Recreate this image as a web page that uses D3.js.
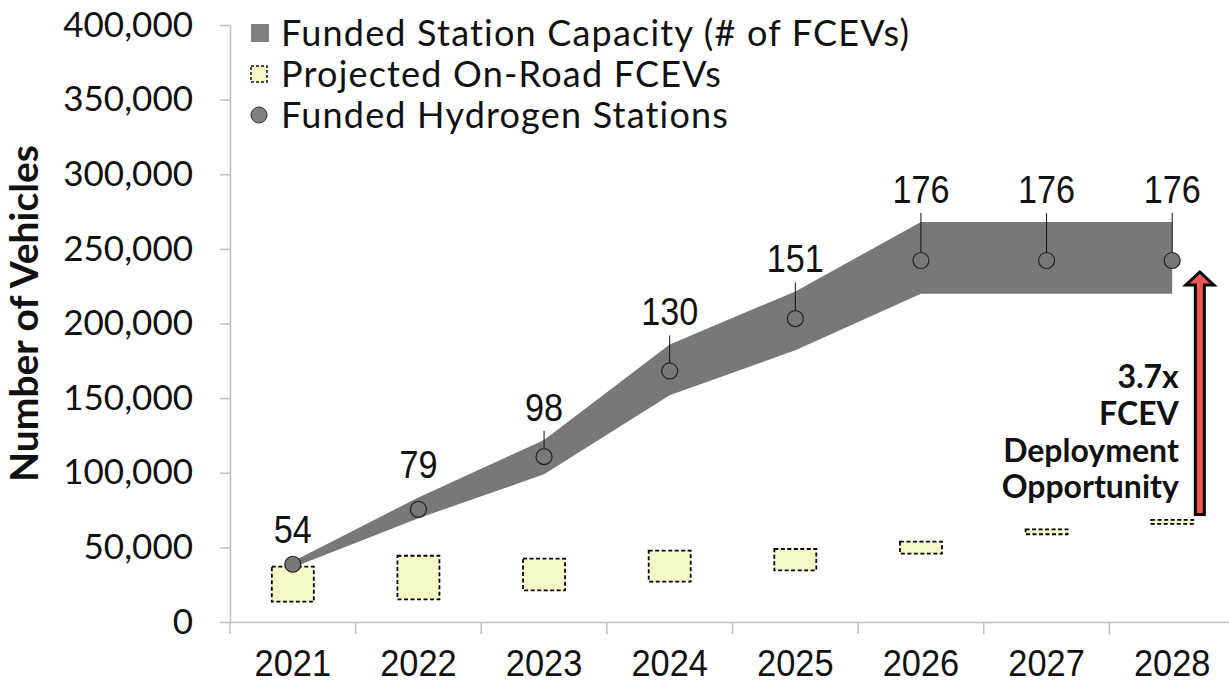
<!DOCTYPE html>
<html>
<head>
<meta charset="utf-8">
<script src="https://cdn.jsdelivr.net/npm/d3@7"></script>
<style>
    body { margin: 0; background: #fff; }
    svg { display: block; }
</style>
</head>
<body>
<script>
'use strict'

const years = ['2021', '2022', '2023', '2024', '2025', '2026', '2027', '2028']
const capacityHigh = [40500, 83500, 122000, 186000, 221500, 268000, 268000, 268000]
const capacityLow = [36500, 69500, 99000, 152000, 182000, 220000, 220000, 220000]
const stationY = [38700, 75500, 110800, 168200, 203300, 242200, 242200, 242200]
const stationCounts = [54, 79, 98, 130, 151, 176, 176, 176]
const fcevHigh = [37100, 44400, 42400, 47800, 48900, 53800, 62100, 68400]
const fcevLow = [13600, 15200, 21200, 27000, 34600, 45800, 58800, 65700]
const yTicks = [0, 50000, 100000, 150000, 200000, 250000, 300000, 350000, 400000]
const legendLabels = ['Funded Station Capacity (# of FCEVs)', 'Projected On-Road FCEVs', 'Funded Hydrogen Stations']
const arrowRange = [72000, 234500]
const arrowLines = ['3.7x', 'FCEV', 'Deployment', 'Opportunity']

const width = 1229
const height = 684
const geo = 'Lato, "Open Sans", sans-serif'
const arial = '"Liberation Sans", Arial, sans-serif'
const bandGray = '#787878'
const axisGray = '#bfbfbf'

const svg = d3.select('body').append('svg').attr('width', width).attr('height', height)

const x = d3.scaleBand().domain(years).range([230, 1235])
const y = d3.scaleLinear().domain([0, 400000]).range([622, 25])
const cx = d => x(d) + x.bandwidth() / 2

// y axis
const yAxis = svg.append('g')
    .attr('transform', 'translate(230,0)')
    .call(d3.axisLeft(y).tickValues(yTicks).tickSize(10).tickSizeOuter(0).tickPadding(27).tickFormat(d3.format(',')))
yAxis.selectAll('text').style('font-family', geo).style('font-size', '35px').attr('fill', '#111')
yAxis.selectAll('line, path').attr('stroke', axisGray).attr('stroke-width', 1.5)

// x axis, labels squeezed a little like a narrow face
const xAxis = svg.append('g')
    .attr('transform', 'translate(0,622)')
    .call(d3.axisBottom(x).tickSize(0).tickSizeOuter(0))
xAxis.selectAll('text')
    .attr('y', 54).attr('dy', 0)
    .attr('transform', 'scale(0.93,1)')
    .style('font-family', arial).style('font-size', '37px').attr('fill', '#111')
xAxis.select('path').attr('stroke', axisGray).attr('stroke-width', 1.5)
xAxis.selectAll('.boundary')
    .data(years)
    .enter().append('line')
    .attr('class', 'boundary')
    .attr('x1', d => x(d)).attr('x2', d => x(d))
    .attr('y1', 0).attr('y2', 12)
    .attr('stroke', axisGray).attr('stroke-width', 1.5)

svg.append('text')
    .attr('transform', `translate(38,${(y(0) + y(400000)) / 2 - 10}) rotate(-90)`)
    .attr('text-anchor', 'middle')
    .style('font-family', geo).style('font-size', '39px').style('font-weight', 'bold')
    .attr('fill', '#111')
    .text('Number of Vehicles')

// capacity band
const rows = years.map((d, i) => ({
    year: d, hi: capacityHigh[i], lo: capacityLow[i], st: stationY[i], count: stationCounts[i],
    fHi: fcevHigh[i], fLo: fcevLow[i]
}))

const area = d3.area()
    .x(d => cx(d.year))
    .y0(d => y(d.lo))
    .y1(d => y(d.hi))

svg.append('path').datum(rows).attr('d', area).attr('fill', bandGray)

// projected FCEV boxes
svg.append('g').selectAll('rect')
    .data(rows)
    .enter().append('rect')
    .attr('x', d => cx(d.year) - 21)
    .attr('width', 42)
    .attr('y', d => y(d.fHi))
    .attr('height', d => y(d.fLo) - y(d.fHi))
    .attr('fill', '#f5f8c6')
    .attr('stroke', '#000')
    .attr('stroke-width', 1.8)
    .attr('stroke-dasharray', '4,2.5')

// station labels and leaders
const labels = svg.append('g')
rows.forEach(d => {
    const base = y(d.hi) - 19
    const top = base + 10
    const bottom = y(d.st) - 8
    if (bottom - top > 15) {
        labels.append('line')
            .attr('x1', cx(d.year)).attr('x2', cx(d.year))
            .attr('y1', top).attr('y2', bottom)
            .attr('stroke', '#111').attr('stroke-width', 1)
    }
    labels.append('text')
        .attr('transform', `translate(${cx(d.year)},${base}) scale(0.9,1)`)
        .attr('text-anchor', 'middle')
        .style('font-family', arial).style('font-size', '38px')
        .attr('fill', '#111')
        .text(d.count)
})

svg.append('g').selectAll('circle')
    .data(rows)
    .enter().append('circle')
    .attr('cx', d => cx(d.year))
    .attr('cy', d => y(d.st))
    .attr('r', 8)
    .attr('fill', bandGray)
    .attr('stroke', '#222')
    .attr('stroke-width', 1.2)

// opportunity arrow
const last = years[years.length - 1]
const ax = cx(last) + x.bandwidth() * 0.22
const y0 = y(arrowRange[0])
const y1 = y(arrowRange[1])
const hw = 4.5
const hh = 14
const hl = 13
svg.append('path')
    .attr('d', `M${ax - hw},${y0} L${ax - hw},${y1 + hl} L${ax - hh},${y1 + hl} L${ax},${y1} L${ax + hh},${y1 + hl} L${ax + hw},${y1 + hl} L${ax + hw},${y0} Z`)
    .attr('fill', '#f0564f')
    .attr('stroke', '#000')
    .attr('stroke-width', 3)
    .attr('stroke-linejoin', 'miter')

svg.append('g').selectAll('text')
    .data(arrowLines)
    .enter().append('text')
    .attr('x', ax - 21)
    .attr('y', (d, i) => 388 + i * 36.8)
    .attr('text-anchor', 'end')
    .style('font-family', geo).style('font-size', '32px').style('font-weight', 'bold')
    .attr('fill', '#111')
    .text(d => d)

// legend
const legend = svg.append('g')
const rowY = [33, 74, 115]
legend.append('rect').attr('x', 251).attr('y', rowY[0] - 9).attr('width', 18).attr('height', 18).attr('fill', '#7f7f7f')
legend.append('rect').attr('x', 251).attr('y', rowY[1] - 8).attr('width', 16).attr('height', 16)
    .attr('fill', '#f5f8c6').attr('stroke', '#111').attr('stroke-width', 1.5).attr('stroke-dasharray', '3,2')
legend.append('circle').attr('cx', 259).attr('cy', rowY[2]).attr('r', 8)
    .attr('fill', '#7f7f7f').attr('stroke', '#333').attr('stroke-width', 1)
legend.selectAll('text')
    .data(legendLabels)
    .enter().append('text')
    .attr('x', 281)
    .attr('y', (d, i) => rowY[i])
    .attr('dy', '0.36em')
    .style('font-family', geo).style('font-size', '36px').style('letter-spacing', '1.2px')
    .attr('fill', '#111')
    .text(d => d)
</script>
</body>
</html>
